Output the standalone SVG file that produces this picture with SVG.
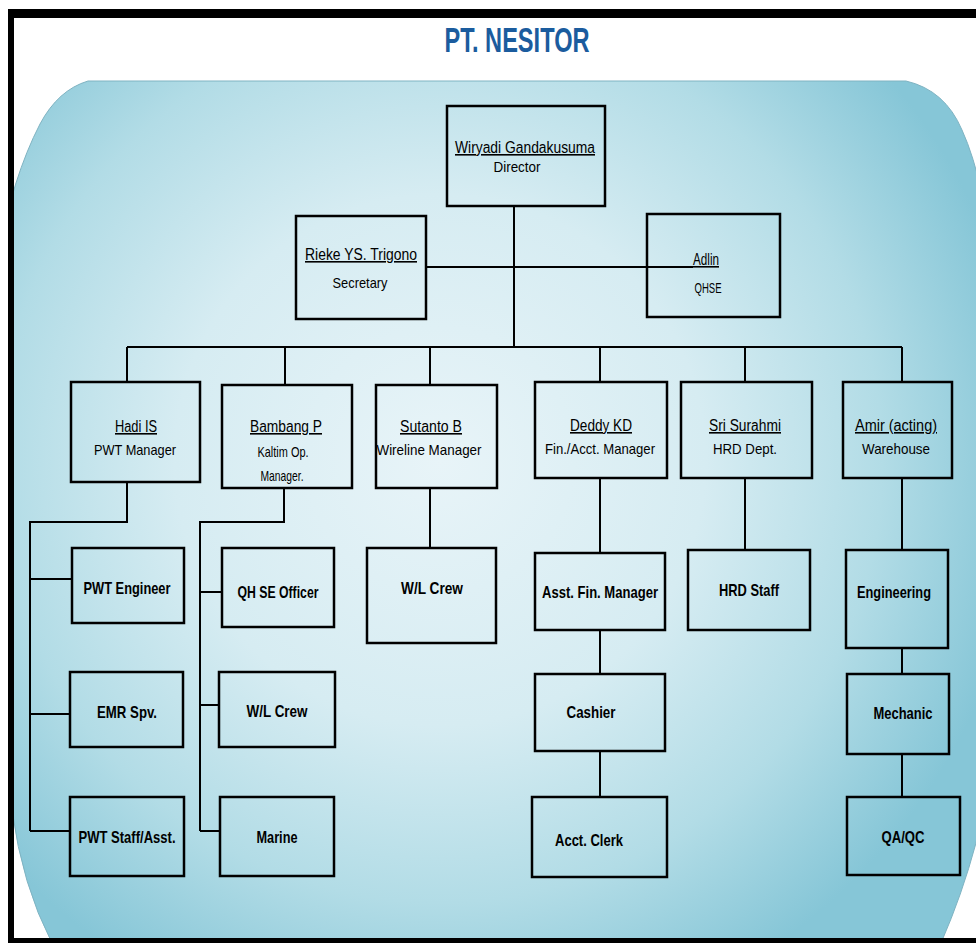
<svg xmlns="http://www.w3.org/2000/svg" width="976" height="943" viewBox="0 0 976 943">
<defs>
<radialGradient id="bg" gradientUnits="userSpaceOnUse" cx="440" cy="460" r="590">
<stop offset="0" stop-color="#e8f4f8"/>
<stop offset="0.45" stop-color="#d6ecf2"/>
<stop offset="0.75" stop-color="#b2dce6"/>
<stop offset="1" stop-color="#86c6d7"/>
</radialGradient>
<clipPath id="frame"><rect x="14" y="18" width="962" height="920"/></clipPath>
</defs>
<style>
.box{fill:none;stroke:#000;stroke-width:2.5}
.ln{fill:none;stroke:#000;stroke-width:2}
.nm{font-family:"Liberation Sans Narrow","Liberation Sans",Arial,sans-serif;font-size:16px;fill:#000;text-anchor:middle;text-decoration:underline}
.tt{font-family:"Liberation Sans Narrow","Liberation Sans",Arial,sans-serif;font-size:15px;fill:#000;text-anchor:middle}
.bd{font-family:"Liberation Sans Narrow","Liberation Sans",Arial,sans-serif;font-size:17px;font-weight:bold;fill:#000;text-anchor:middle}
</style>
<rect x="0" y="0" width="976" height="943" fill="#fff"/>
<path d="M88 81 L906 81 Q945 90 962 130 Q985 180 1000 300 L1000 700 L976 843 Q962 895 941 943 L52 943 Q22 885 12 810 L-20 450 Q-15 230 40 124 Q58 90 88 81 Z" fill="url(#bg)" stroke="#7fb3c2" stroke-width="1" clip-path="url(#frame)"/>
<rect x="8" y="9" width="968" height="9" fill="#000"/>
<rect x="8" y="9" width="6" height="934" fill="#000"/>
<rect x="8" y="938" width="968" height="5" fill="#000"/>
<text x="517" y="52" font-family="Liberation Sans Narrow,Liberation Sans,Arial,sans-serif" font-size="35" font-weight="bold" fill="#1b5c9e" text-anchor="middle" textLength="145" lengthAdjust="spacingAndGlyphs">PT. NESITOR</text>
<g id="connectors">
<path class="ln" d="M514 206 V347"/>
<path class="ln" d="M426 267 H693"/>
<path class="ln" d="M127 347 H902"/>
<path class="ln" d="M127 347 V382 M285 347 V385 M430 347 V385 M600 347 V382 M745 347 V382 M902 347 V382"/>
<path class="ln" d="M127 482 V522 H30 V831 M30 579 H72 M30 714 H70 M30 831 H70"/>
<path class="ln" d="M284 488 V522 H200 V831 M200 592 H222 M200 705 H219 M200 831 H220"/>
<path class="ln" d="M430 488 V548"/>
<path class="ln" d="M600 478 V553 M600 630 V674 M600 751 V797"/>
<path class="ln" d="M745 478 V550"/>
<path class="ln" d="M902 478 V550 M902 648 V674 M902 754 V797"/>
</g>
<g id="director"><rect class="box" x="447" y="106" width="158" height="100"/>
<text class="nm" x="525" y="153" textLength="140" lengthAdjust="spacingAndGlyphs">Wiryadi Gandakusuma</text>
<text class="tt" x="517" y="172" textLength="47" lengthAdjust="spacingAndGlyphs">Director</text></g>
<g id="secretary"><rect class="box" x="296" y="216" width="130" height="103"/>
<text class="nm" x="361" y="260" textLength="112" lengthAdjust="spacingAndGlyphs">Rieke YS. Trigono</text>
<text class="tt" x="360" y="288" textLength="55" lengthAdjust="spacingAndGlyphs">Secretary</text></g>
<g id="qhse"><rect class="box" x="647" y="214" width="133" height="103"/>
<text class="nm" x="706" y="265" textLength="26" lengthAdjust="spacingAndGlyphs">Adlin</text>
<text class="tt" x="708" y="293" textLength="27" lengthAdjust="spacingAndGlyphs">QHSE</text></g>
<g id="hadi"><rect class="box" x="71" y="382" width="129" height="100"/>
<text class="nm" x="136" y="432" textLength="42" lengthAdjust="spacingAndGlyphs">Hadi IS</text>
<text class="tt" x="135" y="455" textLength="82" lengthAdjust="spacingAndGlyphs">PWT Manager</text></g>
<g id="bambang"><rect class="box" x="222" y="385" width="130" height="103"/>
<text class="nm" x="286" y="432" textLength="72" lengthAdjust="spacingAndGlyphs">Bambang P</text>
<text class="tt" x="283" y="457" textLength="51" lengthAdjust="spacingAndGlyphs">Kaltim Op.</text>
<text class="tt" x="282" y="481" textLength="43" lengthAdjust="spacingAndGlyphs">Manager.</text></g>
<g id="sutanto"><rect class="box" x="376" y="385" width="121" height="103"/>
<text class="nm" x="431" y="432" textLength="62" lengthAdjust="spacingAndGlyphs">Sutanto B</text>
<text class="tt" x="429" y="455" textLength="105" lengthAdjust="spacingAndGlyphs">Wireline Manager</text></g>
<g id="deddy"><rect class="box" x="535" y="382" width="132" height="96"/>
<text class="nm" x="601" y="431" textLength="62" lengthAdjust="spacingAndGlyphs">Deddy KD</text>
<text class="tt" x="600" y="454" textLength="110" lengthAdjust="spacingAndGlyphs">Fin./Acct. Manager</text></g>
<g id="sri"><rect class="box" x="681" y="382" width="131" height="96"/>
<text class="nm" x="745" y="431" textLength="72" lengthAdjust="spacingAndGlyphs">Sri Surahmi</text>
<text class="tt" x="745" y="454" textLength="64" lengthAdjust="spacingAndGlyphs">HRD Dept.</text></g>
<g id="amir"><rect class="box" x="843" y="382" width="109" height="96"/>
<text class="nm" x="896" y="431" textLength="82" lengthAdjust="spacingAndGlyphs">Amir (acting)</text>
<text class="tt" x="896" y="454" textLength="68" lengthAdjust="spacingAndGlyphs">Warehouse</text></g>
<g id="pwt-engineer"><rect class="box" x="72" y="548" width="112" height="75"/>
<text class="bd" x="127" y="594" textLength="87" lengthAdjust="spacingAndGlyphs">PWT Engineer</text></g>
<g id="emr-spv"><rect class="box" x="70" y="672" width="113" height="75"/>
<text class="bd" x="127" y="718" textLength="60" lengthAdjust="spacingAndGlyphs">EMR Spv.</text></g>
<g id="pwt-staff"><rect class="box" x="70" y="797" width="114" height="79"/>
<text class="bd" x="127" y="843" textLength="97" lengthAdjust="spacingAndGlyphs">PWT Staff/Asst.</text></g>
<g id="qhse-officer"><rect class="box" x="222" y="548" width="112" height="79"/>
<text class="bd" x="278" y="598" textLength="81" lengthAdjust="spacingAndGlyphs">QH SE Officer</text></g>
<g id="wl-crew-kaltim"><rect class="box" x="219" y="672" width="116" height="75"/>
<text class="bd" x="277" y="717" textLength="61" lengthAdjust="spacingAndGlyphs">W/L Crew</text></g>
<g id="marine"><rect class="box" x="220" y="797" width="114" height="79"/>
<text class="bd" x="277" y="843" textLength="41" lengthAdjust="spacingAndGlyphs">Marine</text></g>
<g id="wl-crew-wireline"><rect class="box" x="367" y="548" width="129" height="95"/>
<text class="bd" x="432" y="594" textLength="62" lengthAdjust="spacingAndGlyphs">W/L Crew</text></g>
<g id="asst-fin"><rect class="box" x="535" y="553" width="130" height="77"/>
<text class="bd" x="600" y="598" textLength="116" lengthAdjust="spacingAndGlyphs">Asst. Fin. Manager</text></g>
<g id="cashier"><rect class="box" x="535" y="674" width="130" height="77"/>
<text class="bd" x="591" y="718" textLength="49" lengthAdjust="spacingAndGlyphs">Cashier</text></g>
<g id="acct-clerk"><rect class="box" x="532" y="797" width="135" height="80"/>
<text class="bd" x="589" y="846" textLength="68" lengthAdjust="spacingAndGlyphs">Acct. Clerk</text></g>
<g id="hrd-staff"><rect class="box" x="688" y="550" width="122" height="80"/>
<text class="bd" x="749" y="596" textLength="60" lengthAdjust="spacingAndGlyphs">HRD Staff</text></g>
<g id="engineering"><rect class="box" x="846" y="550" width="102" height="98"/>
<text class="bd" x="894" y="598" textLength="74" lengthAdjust="spacingAndGlyphs">Engineering</text></g>
<g id="mechanic"><rect class="box" x="847" y="674" width="102" height="80"/>
<text class="bd" x="903" y="719" textLength="59" lengthAdjust="spacingAndGlyphs">Mechanic</text></g>
<g id="qaqc"><rect class="box" x="847" y="797" width="113" height="78"/>
<text class="bd" x="903" y="843" textLength="43" lengthAdjust="spacingAndGlyphs">QA/QC</text></g>
</svg>
